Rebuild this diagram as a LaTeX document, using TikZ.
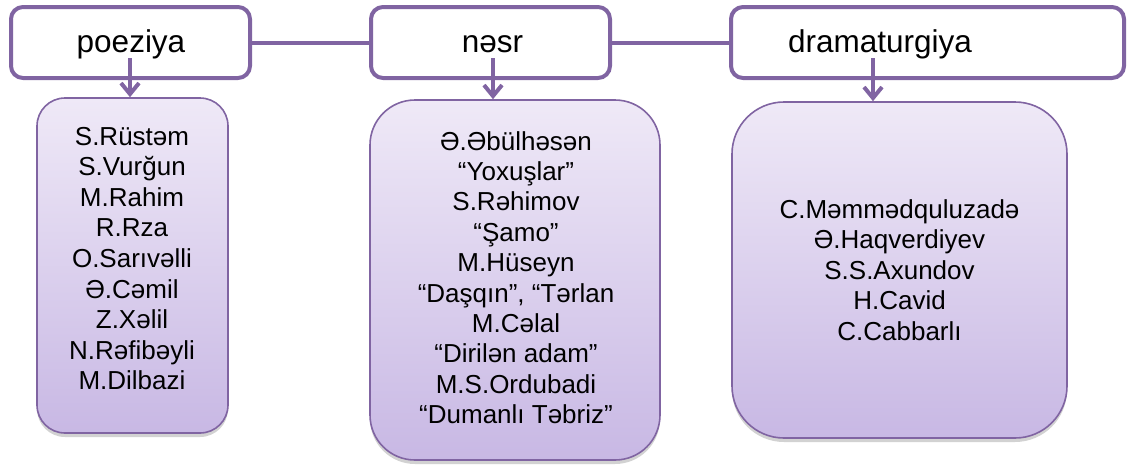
\documentclass[tikz,border=0pt]{standalone}
\usepackage{fontspec}
\setmainfont{Liberation Sans}
\usetikzlibrary{arrows.meta,shadows}
\definecolor{pborder}{RGB}{128,100,162}
\definecolor{ptop}{RGB}{239,233,247}
\definecolor{pbot}{RGB}{200,184,228}
\begin{document}
\begin{tikzpicture}[x=1pt,y=-1pt,
  topbox/.style={draw=pborder,line width=4pt,fill=white,rounded corners=12pt,
    rectangle,inner sep=0pt,minimum height=71pt},
  toptext/.style={anchor=base,inner sep=0pt,font=\fontsize{31.5pt}{36pt}\selectfont},
  listbox/.style={draw=pborder,line width=1.6pt,top color=ptop,bottom color=pbot,
    rectangle,inner sep=0pt,
    drop shadow={shadow xshift=0pt,shadow yshift=-4pt,opacity=0.25,fill=black!70}},
  listtext/.style={anchor=base,inner sep=0pt},
  link/.style={draw=pborder,line width=4pt},
  down/.style={draw=pborder,line width=4pt,-{Straight Barb[length=11pt,width=18pt]}}
]
\useasboundingbox (0,0) rectangle (1129,464);
% top boxes
\node[topbox,minimum width=239pt] (t1) at (130.5,42.5) {};
\node[topbox,minimum width=239pt] (t2) at (490.5,42.5) {};
\node[topbox,minimum width=393pt] (t3) at (927.5,42.5) {};
\draw[link] (t1.east) -- (t2.west);
\draw[link] (t2.east) -- (t3.west);
\node[toptext] (l1) at (131,52) {poeziya};
\node[toptext] (l2) at (492.5,52) {nəsr};
\node[toptext] (l3) at (880,52) {dramaturgiya};
% bottom boxes
\node[listbox,rounded corners=28pt,minimum width=191pt,minimum height=335pt] (b1) at (132.5,265.5) {};
\node[listbox,rounded corners=45pt,minimum width=290pt,minimum height=360pt] (b2) at (515,280) {};
\node[listbox,rounded corners=52pt,minimum width=335pt,minimum height=336pt] (b3) at (899.5,270) {};
% arrows
\coordinate (a1) at (130,58);
\coordinate (a2) at (493,58);
\coordinate (a3) at (873,58);
\draw[down] (a1) -- (a1 |- b1.north);
\draw[down] (a2) -- (a2 |- b2.north);
\draw[down] (a3) -- (a3 |- b3.north);
% texts
\node[listtext] (x1) at (132,145) {\fontsize{26pt}{30.6pt}\selectfont
  \begin{tabular}[t]{@{}c@{}}S.Rüstəm\\S.Vurğun\\M.Rahim\\R.Rza\\O.Sarıvəlli\\Ə.Cəmil\\Z.Xəlil\\N.Rəfibəyli\\M.Dilbazi\end{tabular}};
\node[listtext] (x2) at (516,150) {\fontsize{26pt}{30.4pt}\selectfont
  \begin{tabular}[t]{@{}c@{}}Ə.Əbülhəsən\\“Yoxuşlar”\\S.Rəhimov\\“Şamo”\\M.Hüseyn\\“Daşqın”, “Tərlan\\M.Cəlal\\“Dirilən adam”\\M.S.Ordubadi\\“Dumanlı Təbriz”\end{tabular}};
\node[listtext] (x3) at (899.5,218) {\fontsize{26pt}{30.5pt}\selectfont
  \begin{tabular}[t]{@{}c@{}}C.Məmmədquluzadə\\Ə.Haqverdiyev\\S.S.Axundov\\H.Cavid\\C.Cabbarlı\end{tabular}};
\end{tikzpicture}
\end{document}
